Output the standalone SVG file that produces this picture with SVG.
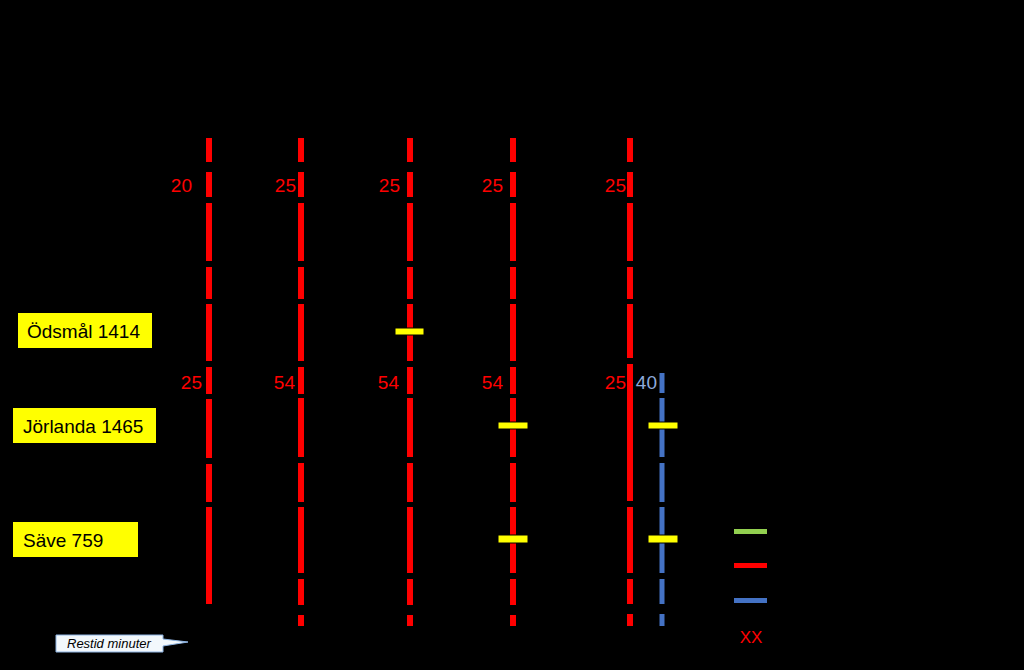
<svg xmlns="http://www.w3.org/2000/svg" width="1024" height="670" viewBox="0 0 1024 670">
<style>
.r{stroke:#ff0000;stroke-width:6;fill:none}
.b{stroke:#4472c4;stroke-width:5;fill:none}
.stop{fill:#ffff00;stroke:#000;stroke-width:1}
.num{font-family:"Liberation Sans",Arial,sans-serif;font-size:19px;fill:#ff0000;text-anchor:end}
.lbl{font-family:"Liberation Sans",Arial,sans-serif;font-size:19px;fill:#000}
.box{fill:#ffff00}
</style>
<rect width="1024" height="670" fill="#000"/>
<g id="connectors">
<g id="line1">
<path class="r" d="M209 138V162M209 172V197M209 203V261M209 267V299M209 304V361M209 367V394M209 399V458M209 464V502M209 507V604"/>
</g>
<g id="line2">
<path class="r" d="M301 138V162M301 172V197M301 203V261M301 267V299M301 304V361M301 367V394M301 398V457M301 463V502M301 507V573M301 579V605M301 615V626"/>
</g>
<g id="line3">
<path class="r" d="M410 138V162M410 172V197M410 203V261M410 267V299M410 304V361M410 367V394M410 398V457M410 463V502M410 507V573M410 579V605M410 615V626"/>
</g>
<g id="line4">
<path class="r" d="M513 138V162M513 172V197M513 203V261M513 267V299M513 304V361M513 367V394M513 398V457M513 463V502M513 507V573M513 579V605M513 615V626"/>
</g>
<g id="line5">
<path class="r" d="M630 138V162M630 172V197M630 203V261M630 267V299M630 304V358M630 364V501M630 507V573M630 579V604M630 614V626"/>
</g>
<g id="line6">
<path class="b" d="M662 373V393M662 398V457M662 463V502M662 507V573M662 579V604M662 614V626"/>
</g>
</g>
<g id="stops">
<rect class="stop" x="395" y="328" width="29" height="7"/>
<rect class="stop" x="498" y="422" width="30" height="7"/>
<rect class="stop" x="498" y="535" width="30" height="8"/>
<rect class="stop" x="648" y="422" width="30" height="7"/>
<rect class="stop" x="648" y="535" width="30" height="8"/>
</g>
<g id="times">
<text class="num" x="192" y="192">20</text>
<text class="num" x="296" y="192">25</text>
<text class="num" x="400" y="192">25</text>
<text class="num" x="503" y="192">25</text>
<text class="num" x="626" y="192">25</text>
<text class="num" x="202" y="389">25</text>
<text class="num" x="295" y="389">54</text>
<text class="num" x="399" y="389">54</text>
<text class="num" x="503" y="389">54</text>
<text class="num" x="626" y="389">25</text>
<text class="num" x="657" y="389" style="fill:#8eaadb">40</text>
</g>
<g id="node-odsmal">
<rect class="box" x="18" y="313" width="134" height="35"/>
<text class="lbl" x="27" y="338">Ödsmål 1414</text>
</g>
<g id="node-jorlanda">
<rect class="box" x="13" y="408" width="143" height="35"/>
<text class="lbl" x="23" y="433">Jörlanda 1465</text>
</g>
<g id="node-save">
<rect class="box" x="13" y="522" width="125" height="35"/>
<text class="lbl" x="23" y="547">Säve 759</text>
</g>
<g id="legend">
<rect x="734" y="529" width="33" height="5" fill="#92d050"/>
<rect x="734" y="563" width="33" height="5" fill="#ff0000"/>
<rect x="734" y="598" width="33" height="5" fill="#4472c4"/>
<text x="751" y="643" style="font-family:'Liberation Sans',Arial,sans-serif;font-size:17px;fill:#ff0000;text-anchor:middle">XX</text>
</g>
<g id="callout">
<path d="M56 635H163V639L188 642L163 646V652H56Z" fill="#f2f8fc" stroke="#8db3e2" stroke-width="1"/>
<text x="67" y="648" style="font-family:'Liberation Sans',Arial,sans-serif;font-size:13px;font-style:italic;fill:#000">Restid minuter</text>
</g>
</svg>
